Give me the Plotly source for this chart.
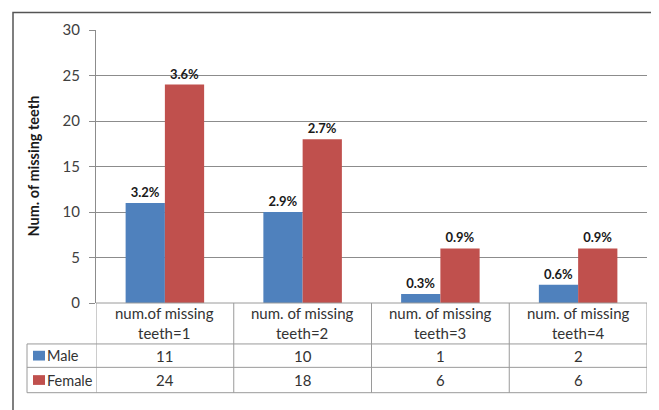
import plotly.graph_objects as go

categories = ["num.of missing<br>teeth=1", "num. of missing<br>teeth=2",
              "num. of missing<br>teeth=3", "num. of missing<br>teeth=4"]
male = [11, 10, 1, 2]
female = [24, 18, 6, 6]
male_pct = ["3.2%", "2.9%", "0.3%", "0.6%"]
female_pct = ["3.6%", "2.7%", "0.9%", "0.9%"]
series_names = ["Male", "Female"]
colors = ["#4F81BD", "#C0504D"]

# the page body has an 8px margin, so the figure is laid out 8px smaller
OFF = 8
W, H = 659 - OFF, 410 - OFF
L, R, T, B = 96 - OFF, 12, 23 - OFF, 107
pw, ph = W - L - R, H - T - B

def px_y(py):
    return (303 - py) / ph

def px_x(px):
    return (px - 96) / pw

font = "Lato, Open Sans, sans-serif"
xs = list(range(len(categories)))

fig = go.Figure()
for name, vals, pcts, col in zip(series_names, [male, female], [male_pct, female_pct], colors):
    fig.add_trace(go.Bar(x=xs, y=vals, name=name, marker=dict(color=col, line=dict(width=0)),
                         text=pcts, textposition="outside",
                         textfont=dict(family=font, size=13, color="#1a1a1a"),
                         texttemplate="<b>%{text}</b>", cliponaxis=False))

fig.update_layout(
    width=W, height=H, autosize=False,
    margin=dict(l=L, r=R, t=T, b=B),
    barmode="group", bargap=0.43, bargroupgap=0,
    showlegend=False,
    plot_bgcolor="white", paper_bgcolor="white",
    font=dict(family=font, size=14, color="#333"),
    xaxis=dict(range=[-0.5, len(categories) - 0.5], showticklabels=False, showgrid=False,
               zeroline=False, showline=False, ticks=""),
    yaxis=dict(range=[0, 30], dtick=5, showgrid=True, gridcolor="#8c8c8c", gridwidth=1,
               zeroline=False, showline=True, linecolor="#8c8c8c", ticks="outside",
               ticklen=6, tickcolor="#8c8c8c", tickfont=dict(size=15, color="#404040"),
               ticklabelstandoff=6),
)

line = dict(color="#9a9a9a", width=1)
y_rows = [px_y(303), px_y(345), px_y(369), px_y(395)]
x_leg = px_x(27)

# table horizontal lines
fig.add_shape(type="line", xref="paper", yref="paper", x0=0, x1=1, y0=y_rows[0], y1=y_rows[0], line=line)
for yv in y_rows[1:]:
    fig.add_shape(type="line", xref="paper", yref="paper", x0=x_leg, x1=1, y0=yv, y1=yv, line=line)
# table vertical lines at category boundaries
for i in range(len(categories) + 1):
    fig.add_shape(type="line", xref="x", yref="paper", x0=i - 0.5, x1=i - 0.5,
                  y0=y_rows[0], y1=y_rows[3], line=line)
fig.add_shape(type="line", xref="paper", yref="paper", x0=x_leg, x1=x_leg,
              y0=y_rows[1], y1=y_rows[3], line=line)

# header and values
for i, c in enumerate(categories):
    fig.add_annotation(x=i, y=(y_rows[0] + y_rows[1]) / 2, xref="x", yref="paper", text=c,
                       xanchor="center", yanchor="middle", showarrow=False,
                       font=dict(size=15, color="#333"))
for r, vals in enumerate([male, female]):
    yc = (y_rows[r + 1] + y_rows[r + 2]) / 2
    for i, v in enumerate(vals):
        fig.add_annotation(x=i, y=yc, xref="x", yref="paper", text=str(v),
                           xanchor="center", yanchor="middle", showarrow=False,
                           font=dict(size=15, color="#333"))
    # legend key
    fig.add_shape(type="rect", xref="paper", yref="paper", x0=px_x(33), x1=px_x(45),
                  y0=yc - 5 / ph, y1=yc + 5 / ph, fillcolor=colors[r], line=dict(width=0))
    fig.add_annotation(x=px_x(45), y=yc, xref="paper", yref="paper", text=series_names[r],
                       xanchor="left", yanchor="middle", showarrow=False,
                       font=dict(size=14.5, color="#333"))

# y title
fig.add_annotation(x=px_x(33), y=px_y(163), xref="paper", yref="paper",
                   text="<b>Num. of missing teeth</b>", textangle=-90,
                   xanchor="center", yanchor="middle", showarrow=False,
                   font=dict(size=14.5, color="#1a1a1a"))

# outer chart border
fig.add_shape(type="rect", xref="paper", yref="paper", x0=px_x(13), x1=px_x(655),
              y0=px_y(420), y1=px_y(5), line=dict(color="#555", width=1.5))

fig.write_html("out.html")
